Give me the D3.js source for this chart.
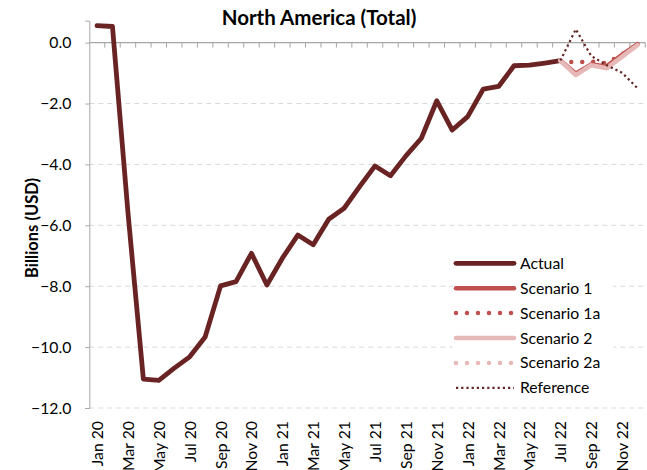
<!DOCTYPE html>
<html>
<head>
<meta charset="utf-8">
<script src="https://cdn.jsdelivr.net/npm/d3@7/dist/d3.min.js"></script>
<style>
  html, body { margin: 0; padding: 0; background: #fff; }
  svg { display: block; font-family: Lato, "Open Sans", sans-serif; }
</style>
</head>
<body>
<svg id="chart" width="647" height="470"></svg>
<script>
// Monthly categories, Jan 2020 to Dec 2022
const months = [
  "Jan 20","Feb 20","Mar 20","Apr 20","May 20","Jun 20","Jul 20","Aug 20","Sep 20","Oct 20","Nov 20","Dec 20",
  "Jan 21","Feb 21","Mar 21","Apr 21","May 21","Jun 21","Jul 21","Aug 21","Sep 21","Oct 21","Nov 21","Dec 21",
  "Jan 22","Feb 22","Mar 22","Apr 22","May 22","Jun 22","Jul 22","Aug 22","Sep 22","Oct 22","Nov 22","Dec 22"
];

// Labelled months on the category axis
const tickLabels = ["Jan 20","Mar 20","May 20","Jul 20","Sep 20","Nov 20","Jan 21","Mar 21","May 21","Jul 21","Sep 21","Nov 21","Jan 22","Mar 22","May 22","Jul 22","Sep 22","Nov 22"];

// Actual values, Jan 20 - Jul 22 (billions USD)
const actual = [0.56, 0.53, -5.56, -11.05, -11.09, -10.69, -10.32, -9.67, -7.99, -7.85, -6.92, -7.96,
  -7.08, -6.32, -6.64, -5.80, -5.44, -4.73, -4.05, -4.37, -3.72, -3.14, -1.91, -2.87,
  -2.43, -1.53, -1.44, -0.76, -0.74, -0.67, -0.59];

// Projection months and series, Jul 22 - Dec 22
const projMonths = ["Jul 22","Aug 22","Sep 22","Oct 22","Nov 22","Dec 22"];
const scenario1  = [-0.59, -1.02, -0.72, -0.78, -0.40, -0.05];
const scenario1a = [-0.59, -0.65, -0.62, -0.68, -0.38, -0.05];
const scenario2  = [-0.59, -1.07, -0.74, -0.84, -0.46, -0.08];
const scenario2a = [-0.59, -1.05, -0.74, -0.84, -0.46, -0.08];
const reference  = [-0.59, 0.44, -0.44, -0.74, -0.99, -1.50];

const yTicks = [0, -2, -4, -6, -8, -10, -12];

const series = [
  { name: "Actual",      cats: months.slice(0, actual.length), values: actual, color: "#6a2323", width: 4.8, dash: null, cap: "round" },
  { name: "Scenario 1",  cats: projMonths, values: scenario1,  color: "#c0504d", width: 4.5, dash: null, cap: "round" },
  { name: "Scenario 1a", cats: projMonths, values: scenario1a, color: "#c0504d", width: 4.5, dash: "0,11", cap: "round" },
  { name: "Scenario 2",  cats: projMonths, values: scenario2,  color: "#e6b9b8", width: 4.5, dash: null, cap: "round" },
  { name: "Scenario 2a", cats: projMonths, values: scenario2a, color: "#e6b9b8", width: 4.5, dash: "0,11", cap: "round" },
  { name: "Reference",   cats: projMonths, values: reference,  color: "#632523", width: 2.2, dash: "2.2,3", cap: "butt" }
];

const svg = d3.select("#chart");
const plotLeft = 89.3, plotRight = 645.3, plotTop = 20.7, plotBottom = 408;

const x = d3.scaleBand().domain(months).range([plotLeft, plotRight]).padding(0);
const y = d3.scaleLinear().domain([-12, 0.72]).range([plotBottom, plotTop]);
const cx = m => x(m) + x.bandwidth() / 2;

// Title
svg.append("text")
  .attr("x", 319).attr("y", 25)
  .attr("text-anchor", "middle")
  .style("font-weight", "bold").style("font-size", "20.5px")
  .text("North America (Total)");

// Dashed horizontal gridlines
svg.append("g").selectAll("line")
  .data(yTicks.filter(d => d !== 0))
  .join("line")
  .attr("x1", plotLeft).attr("x2", plotRight)
  .attr("y1", d => y(d)).attr("y2", d => y(d))
  .attr("stroke", "#d9d9d9").attr("stroke-width", 1)
  .attr("stroke-dasharray", "5,4");

// Value axis
const yAxis = svg.append("g")
  .attr("transform", `translate(${plotLeft},0)`)
  .call(d3.axisLeft(y).tickValues(yTicks).tickFormat(d3.format(".1f")).tickSize(4).tickPadding(14));
yAxis.select(".domain").attr("stroke", "#a6a6a6");
yAxis.selectAll(".tick line").attr("stroke", "#a6a6a6");
yAxis.selectAll(".tick text").style("font-size", "15.75px").style("font-family", "Lato, sans-serif").attr("fill", "#000");

// Axis title
svg.append("text")
  .attr("transform", "translate(38,228) rotate(-90)")
  .attr("text-anchor", "middle")
  .style("font-weight", "bold").style("font-size", "16.5px")
  .text("Billions (USD)");

// Category axis along zero, ticks between months
const zeroY = y(0);
const xg = svg.append("g");
xg.append("line")
  .attr("x1", plotLeft).attr("x2", plotRight)
  .attr("y1", zeroY).attr("y2", zeroY)
  .attr("stroke", "#a6a6a6").attr("stroke-width", 1.2);
xg.selectAll("line.tk")
  .data(months.slice(1).concat(["__end"]))
  .join("line")
  .attr("class", "tk")
  .attr("x1", d => d === "__end" ? plotRight : x(d))
  .attr("x2", d => d === "__end" ? plotRight : x(d))
  .attr("y1", zeroY).attr("y2", zeroY + 5)
  .attr("stroke", "#a6a6a6").attr("stroke-width", 1);

// Rotated month labels below the plot
svg.append("g").selectAll("text")
  .data(tickLabels)
  .join("text")
  .attr("transform", d => `translate(${cx(d) + 6},421) rotate(-90)`)
  .attr("text-anchor", "end")
  .style("font-size", "15.75px")
  .text(d => d);

// Series lines
const line = d3.line().x(d => cx(d[0])).y(d => y(d[1]));
svg.append("g").selectAll("path")
  .data(series)
  .join("path")
  .attr("d", s => line(s.cats.map((c, i) => [c, s.values[i]])))
  .attr("fill", "none")
  .attr("stroke", s => s.color)
  .attr("stroke-width", s => s.width)
  .attr("stroke-linecap", s => s.cap)
  .attr("stroke-linejoin", "round")
  .attr("stroke-dasharray", s => s.dash);

// Legend
const lg = svg.append("g");
lg.append("rect").attr("x", 453).attr("y", 250).attr("width", 160).attr("height", 150).attr("fill", "#fff");
const rows = lg.selectAll("g.row")
  .data(series)
  .join("g")
  .attr("class", "row")
  .attr("transform", (d, i) => `translate(0,${263.3 + i * 24.9})`);
rows.append("line")
  .attr("x1", 456).attr("x2", 514).attr("y1", 0).attr("y2", 0)
  .attr("stroke", s => s.color)
  .attr("stroke-width", s => s.width)
  .attr("stroke-linecap", s => s.cap)
  .attr("stroke-dasharray", s => s.dash);
rows.append("text")
  .attr("x", 520).attr("y", 5.5)
  .style("font-size", "15.75px")
  .text(s => s.name);
</script>
</body>
</html>
